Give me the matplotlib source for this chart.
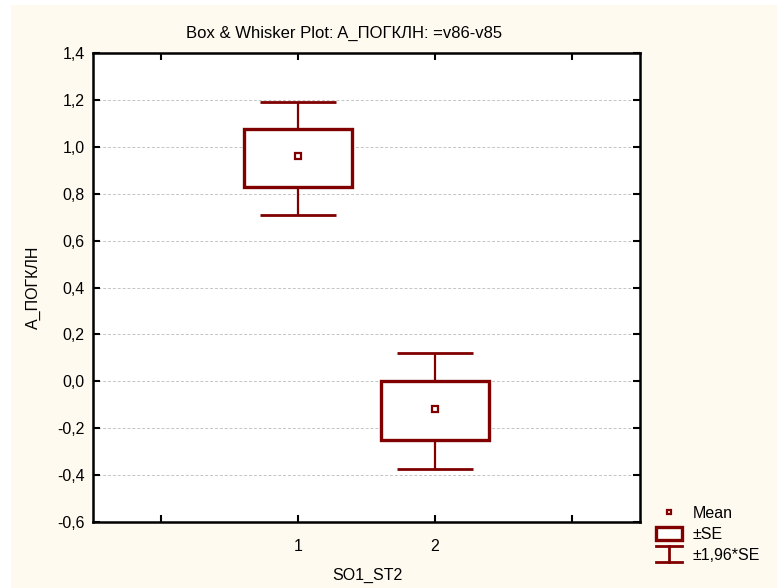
import matplotlib
matplotlib.use("Agg")
import matplotlib.pyplot as plt
from matplotlib.lines import Line2D
from matplotlib.patches import Patch, Rectangle
from matplotlib.legend_handler import HandlerBase

plt.rcParams["font.family"] = ["Liberation Sans", "DejaVu Sans"]

# values
groups = [1, 2]
means = [0.96, -0.12]
se_low = [0.83, -0.25]
se_high = [1.075, 0.0]
ci_low = [0.71, -0.375]
ci_high = [1.19, 0.12]

y_ticks = [-0.6, -0.4, -0.2, 0.0, 0.2, 0.4, 0.6, 0.8, 1.0, 1.2, 1.4]
x_ticks = [0, 1, 2, 3]
x_tick_labels = ["", "1", "2", ""]

DARK_RED = "#800000"
CREAM = "#fffaf0"
FS = 11.5


class WhiskerHandler(HandlerBase):
    def create_artists(self, legend, orig_handle, xdescent, ydescent,
                       width, height, fontsize, trans):
        x0, y0 = -xdescent, -ydescent - 1
        h = height + 3
        kw = dict(color=DARK_RED, lw=2, transform=trans)
        return [
            Line2D([x0, x0 + width], [y0 + h, y0 + h], **kw),
            Line2D([x0 + width / 2] * 2, [y0, y0 + h], **kw),
            Line2D([x0, x0 + width], [y0, y0], **kw),
        ]


fig = plt.figure(figsize=(7.77, 5.88), dpi=100)
fig.patch.set_facecolor("white")
fig.patches.append(Rectangle((11 / 777, 0), 1, 1 - 5 / 588, transform=fig.transFigure,
                             facecolor=CREAM, edgecolor="none", zorder=-10))

ax = fig.add_axes([93 / 777, 1 - 522 / 588, (640 - 93) / 777, (522 - 53) / 588])
ax.set_facecolor("white")

# whiskers (±1.96*SE)
ax.vlines(groups, ci_low, ci_high, color=DARK_RED, lw=1.6, zorder=2)
ax.hlines(ci_low, [g - 0.28 for g in groups], [g + 0.28 for g in groups],
          color=DARK_RED, lw=2, zorder=2)
ax.hlines(ci_high, [g - 0.28 for g in groups], [g + 0.28 for g in groups],
          color=DARK_RED, lw=2, zorder=2)

# boxes (±SE)
heights = [h - l for h, l in zip(se_high, se_low)]
ax.bar(groups, heights, bottom=se_low, width=0.79, facecolor="white",
       edgecolor=DARK_RED, linewidth=2.4, zorder=3)

# means
ax.plot(groups, means, ls="none", marker="s", ms=5, mfc="white",
        mec=DARK_RED, mew=1.6, zorder=4)

ax.set_xlim(-0.5, 3.5)
ax.set_ylim(-0.6, 1.4)
ax.set_yticks(y_ticks)
ax.set_yticklabels([f"{v:.1f}".replace(".", ",") for v in y_ticks])
ax.set_xticks(x_ticks)
ax.set_xticklabels(x_tick_labels)
ax.tick_params(direction="in", length=5, width=1.5, top=True, right=True,
               labelsize=FS, pad=12, colors="black")
ax.tick_params(axis="y", pad=6)
ax.grid(axis="y", ls="--", color="#c4c4c4", lw=0.7, dashes=(3, 2))
ax.set_axisbelow(True)
for s in ax.spines.values():
    s.set_linewidth(1.8)

fig.text(344 / 777, 1 - 33 / 588, "Box & Whisker Plot: A_ПОГКЛН: =v86-v85",
         ha="center", va="center", fontsize=12)
fig.text(367 / 777, 1 - 575 / 588, "SO1_ST2", ha="center", va="center", fontsize=FS)
fig.text(33 / 777, 1 - 287 / 588, "A_ПОГКЛН", ha="center", va="center",
         rotation=90, fontsize=FS)

handles = [
    Line2D([], [], ls="none", marker="s", ms=3.5, mfc="white", mec=DARK_RED, mew=1.6),
    Patch(facecolor="white", edgecolor=DARK_RED, linewidth=2.4),
    "whisker",
]
labels = ["Mean", "±SE", "±1,96*SE"]
fig.legend(handles, labels, loc="upper left",
           bbox_to_anchor=(648 / 777, 1 - 498 / 588), frameon=False,
           fontsize=FS, handlelength=1.6, handleheight=0.8, handletextpad=0.7,
           labelspacing=0.38, borderpad=0,
           handler_map={str: WhiskerHandler()})

fig.savefig("out.png", dpi=100, facecolor=fig.get_facecolor())
